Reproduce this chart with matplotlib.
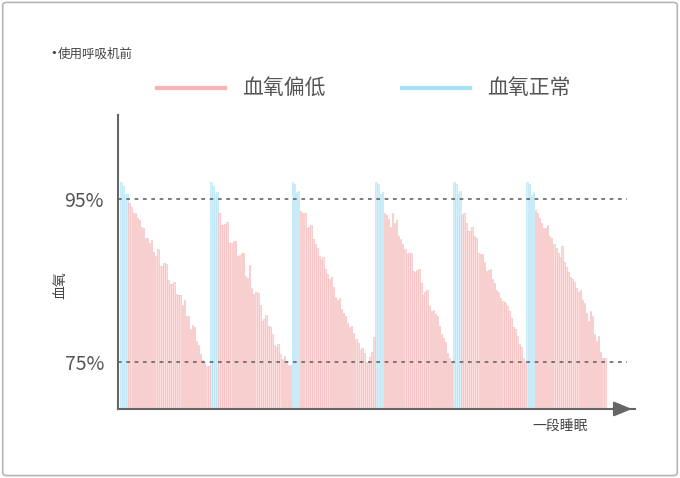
import matplotlib
matplotlib.use("Agg")
import matplotlib.pyplot as plt
from matplotlib.patches import FancyBboxPatch

plt.rcParams['font.family'] = ['Noto Sans CJK SC', 'DejaVu Sans']

blue_vals = [
    [97.0, 96.6, 95.4, 95.6],
    [97.0, 96.6, 95.6, 95.8],
    [97.0, 96.8, 95.8, 96.0],
    [97.0, 96.8, 95.6, 95.8],
    [97.0, 96.8, 95.6, 95.9],
    [97.0, 96.8, 95.4, 95.8],
]
pink_vals = [
    [94.5, 94.0, 93.2, 93.3, 92.6, 92.4, 91.5, 91.4, 90.2, 90.2, 89.6, 89.9, 88.5, 88.0, 88.8,
     86.8, 86.8, 87.1, 87.0, 85.0, 84.5, 84.5, 84.8, 83.3, 83.2, 83.2, 82.0, 82.6, 80.6, 80.6,
     79.0, 79.5, 79.2, 77.5, 77.0, 76.0, 75.2, 75.0, 74.5, 74.5],
    [93.2, 91.8, 91.8, 91.9, 92.2, 89.6, 89.6, 89.8, 89.8, 88.0, 88.1, 88.4, 88.4, 85.5, 85.3,
     86.9, 84.0, 83.3, 83.5, 83.4, 82.0, 80.0, 80.3, 80.7, 79.4, 79.2, 78.4, 77.0, 76.8, 77.2,
     76.0, 75.3, 75.7, 74.8, 74.6, 74.6],
    [93.5, 93.2, 93.3, 91.4, 91.5, 91.8, 90.0, 89.5, 89.0, 88.0, 87.5, 87.8, 86.4, 85.8, 85.2,
     85.4, 84.2, 83.0, 82.6, 82.8, 81.5, 81.0, 80.6, 79.8, 79.3, 79.4, 78.5, 77.8, 77.3, 76.4,
     76.7, 76.1, 75.0, 74.8, 75.6, 76.2, 78.0],
    [93.2, 93.0, 92.5, 91.5, 93.2, 92.0, 92.4, 90.4, 90.0, 89.4, 88.8, 88.2, 88.4, 88.4, 86.1,
     86.0, 86.2, 86.4, 84.6, 83.2, 83.6, 83.8, 81.8, 81.2, 81.4, 80.8, 80.6, 79.4, 78.4, 77.9,
     77.4, 76.1, 75.5, 75.0],
    [93.0, 93.2, 92.0, 91.0, 91.0, 91.5, 90.4, 90.2, 88.4, 88.2, 88.2, 87.2, 86.1, 86.2, 86.4,
     85.2, 84.6, 83.8, 83.6, 82.8, 82.5, 82.2, 81.8, 81.2, 80.4, 79.2, 79.0, 78.2, 77.2, 76.8,
     75.4, 75.0],
    [93.6, 93.2, 92.6, 92.0, 91.4, 91.4, 91.8, 90.4, 90.2, 89.4, 89.0, 88.4, 87.8, 89.2, 87.2,
     86.6, 86.0, 85.4, 85.2, 84.8, 84.0, 83.6, 83.8, 82.6, 82.2, 81.0, 80.0, 81.2, 80.6, 78.4,
     77.6, 78.2, 76.2, 75.4, 75.4],
]

fig = plt.figure(figsize=(6.8, 4.78), dpi=100)
fig.patches.append(FancyBboxPatch((0.004, 0.005), 0.992, 0.99, boxstyle="round,pad=0,rounding_size=0.006",
                                  transform=fig.transFigure, fill=False, edgecolor='#b5b5b5', lw=1.2))
ax = fig.add_axes([0.1735, 0.1444, 0.76, 0.615])

base = 69.2
xs_b, ys_b, xs_p, ys_p = [], [], [], []
i = 0
for b, p in zip(blue_vals, pink_vals):
    for v in b:
        xs_b.append(i); ys_b.append(v); i += 1
    for v in p:
        xs_p.append(i); ys_p.append(v); i += 1
n = i
ax.bar(xs_b, [v - base for v in ys_b], bottom=base, width=0.75, color='#d6f1fb', edgecolor='#b0e3f5', lw=0.4)
ax.bar(xs_p, [v - base for v in ys_p], bottom=base, width=0.75, color='#fcdede', edgecolor='#f5b8b8', lw=0.4)

pitch = (606 - 120) / n
ax.set_xlim(-1.5, n - 1 + 30 / pitch)
ax.set_ylim(base, base + (409 - 115) / 8.15)
for v in (95, 75):
    ax.plot([-1.5, n - 1 + 22 / pitch], [v, v], ls=(0, (2.2, 2.8)), color='#666666', lw=1.2, clip_on=False)

for s in ('top', 'right'):
    ax.spines[s].set_visible(False)
ax.spines['left'].set_color('#666666'); ax.spines['left'].set_linewidth(1.5)
ax.spines['bottom'].set_color('#666666'); ax.spines['bottom'].set_linewidth(1.5)
ax.set_xticks([])
ax.set_yticks([95, 75])
ax.set_yticklabels(['95%', '75%'], fontsize=14, color='#555555')
ax.tick_params(axis='y', length=0, pad=10)
ax.annotate('', xy=(1.0, 0), xytext=(0.95, 0), xycoords='axes fraction',
            arrowprops=dict(arrowstyle='-|>,head_length=1.1,head_width=0.45', color='#666666', lw=1.5))

fig.text(45 / 680, 1 - 54 / 478, '•', fontsize=12, color='#444444', va='center')
fig.text(58 / 680, 1 - 54 / 478, '使用呼吸机前', fontsize=9, color='#444444', va='center')
fig.add_artist(plt.Line2D([157 / 680, 225 / 680], [1 - 88 / 478] * 2, color='#f7b5b5', lw=3))
fig.text(242 / 680, 1 - 88 / 478, '血氧偏低', fontsize=15, color='#555555', va='center')
fig.add_artist(plt.Line2D([402 / 680, 470 / 680], [1 - 88 / 478] * 2, color='#a8e2f7', lw=3))
fig.text(487 / 680, 1 - 88 / 478, '血氧正常', fontsize=15, color='#555555', va='center')
fig.text(60 / 680, 1 - 285 / 478, '血氧', fontsize=10, color='#444444', rotation=90, ha='center', va='center')
fig.text(560 / 680, 1 - 426 / 478, '一段睡眠', fontsize=10, color='#444444', ha='center', va='center')

fig.savefig('out.png', dpi=100)
